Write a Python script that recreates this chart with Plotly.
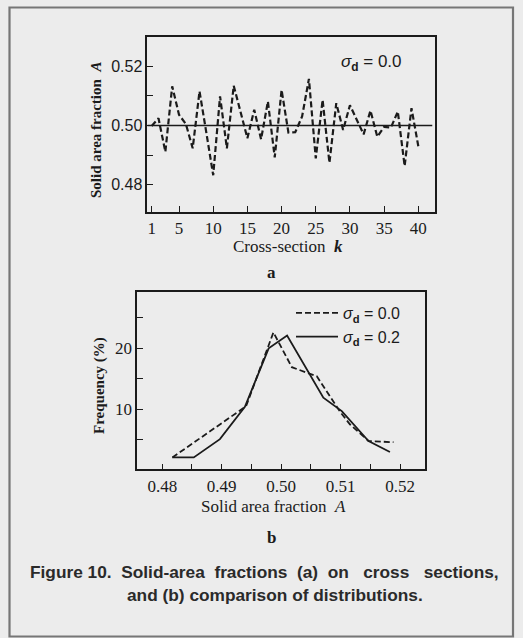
import plotly.graph_objects as go

W, H = 523, 638

# ---------------- data ----------------
# panel a: solid area fraction on each cross-section
cross_section_k = list(range(1, 41))
solid_fraction_a = [0.4998, 0.5024, 0.4911, 0.5132, 0.5036, 0.5005, 0.4923, 0.5115, 0.4975, 0.4832,
                    0.5098, 0.4923, 0.5134, 0.5050, 0.4957, 0.5053, 0.4953, 0.5081, 0.4892, 0.5120,
                    0.4976, 0.4977, 0.5030, 0.5157, 0.4889, 0.5086, 0.4874, 0.5075, 0.4985, 0.5068,
                    0.5020, 0.4970, 0.5050, 0.4962, 0.4995, 0.4993, 0.5047, 0.4863, 0.5058, 0.4930]
mean_level = 0.50
k_ticks = [1, 5, 10, 15, 20, 25, 30, 35, 40]
a_ticks = [0.48, 0.50, 0.52]

# panel b: distributions
dist_x_s00 = [0.4817, 0.4941, 0.4987, 0.5018, 0.5060, 0.5099, 0.5116, 0.5147, 0.5189]
dist_y_s00 = [2.1, 10.5, 22.6, 16.9, 15.4, 9.6, 7.5, 4.8, 4.6]
dist_x_s02 = [0.4817, 0.4853, 0.4897, 0.4939, 0.4979, 0.5010, 0.5071, 0.5102, 0.5147, 0.5183]
dist_y_s02 = [2.1, 2.1, 5.1, 10.4, 20.0, 22.1, 11.9, 9.7, 4.8, 3.0]
b_xticks = [0.48, 0.49, 0.50, 0.51, 0.52]
b_yticks = [10, 20]

INK = "#1b1b1b"
BG = "#ececec"
SERIF = "Liberation Serif"
SANS = "Liberation Sans"
NB = "\u00a0"


def px(x):
    return x / W


def py(y):
    return 1 - y / H


fig = go.Figure()

# panel a
fig.add_trace(go.Scatter(x=cross_section_k, y=solid_fraction_a, mode="lines",
                         line=dict(color=INK, width=2.2, dash="6px,3px"),
                         showlegend=False, xaxis="x", yaxis="y"))
A_XRANGE = [0.36, 42.44]
fig.add_trace(go.Scatter(x=[A_XRANGE[0], A_XRANGE[1] - 0.4], y=[mean_level, mean_level], mode="lines",
                         line=dict(color=INK, width=1.6), showlegend=False,
                         xaxis="x", yaxis="y"))

# panel b
fig.add_trace(go.Scatter(x=dist_x_s00, y=dist_y_s00, mode="lines",
                         line=dict(color=INK, width=1.8, dash="6px,3px"),
                         name="<i>σ</i><sub><b>d</b></sub> = 0.0", xaxis="x2", yaxis="y2"))
fig.add_trace(go.Scatter(x=dist_x_s02, y=dist_y_s02, mode="lines",
                         line=dict(color=INK, width=1.8),
                         name="<i>σ</i><sub><b>d</b></sub> = 0.2", xaxis="x2", yaxis="y2"))

axis_common = dict(showline=True, linecolor=INK, linewidth=1.6, mirror=True,
                   showgrid=False, zeroline=False, ticks="inside", ticklen=6,
                   tickwidth=1.4, tickcolor=INK)

fig.update_layout(
    width=W, height=H,
    margin=dict(l=0, r=0, t=0, b=0),
    paper_bgcolor=BG, plot_bgcolor=BG,
    xaxis=dict(**axis_common, domain=[px(147.3), px(435)], anchor="y",
               range=A_XRANGE, tickvals=k_ticks,
               tickfont=dict(family=SERIF, size=17, color=INK)),
    yaxis=dict(**axis_common, domain=[py(211.7), py(36.5)], anchor="x",
               range=[0.4709, 0.5300], tickvals=a_ticks, tickformat=".2f",
               tickfont=dict(family=SANS, size=16, color=INK),
               minor=dict(dtick=0.01, ticks="inside", ticklen=6, tickcolor=INK, tickwidth=1.4)),
    xaxis2=dict(**axis_common, domain=[px(137.3), px(425)], anchor="y2",
                range=[0.4758, 0.5242], tickvals=b_xticks, tickformat=".2f",
                tickfont=dict(family=SERIF, size=17, color=INK),
                minor=dict(dtick=0.005, tick0=0.48, ticks="inside", ticklen=6, tickcolor=INK, tickwidth=1.4)),
    yaxis2=dict(**axis_common, domain=[py(469.3), py(292.3)], anchor="x2",
                range=[0.16, 29.18], tickvals=b_yticks,
                tickfont=dict(family=SERIF, size=17, color=INK),
                minor=dict(dtick=5, ticks="inside", ticklen=6, tickcolor=INK, tickwidth=1.4)),
    legend=dict(x=px(291), y=py(296), xanchor="left", yanchor="top",
                bgcolor="rgba(0,0,0,0)", itemwidth=42, tracegroupgap=0,
                font=dict(family=SANS, size=16, color=INK)),
    shapes=[dict(type="rect", xref="paper", yref="paper",
                 x0=px(9.5), x1=px(513), y0=py(636.5), y1=py(7.5),
                 line=dict(color="#767676", width=2.2), fillcolor="rgba(0,0,0,0)", layer="below")],
)

line1 = (NB * 2).join(["Figure 10.", "Solid-area", "fractions", "(a)", "on"]) + NB * 3 + \
        "cross" + NB * 3 + "sections,"
ann = [
    dict(text="<b>Solid area fraction  <i>A</i></b>", x=px(96), y=py(130), textangle=-90,
         font=dict(family=SERIF, size=15, color=INK)),
    dict(text="Cross-section  <b><i>k</i></b>", x=px(288), y=py(246),
         font=dict(family=SERIF, size=17, color=INK)),
    dict(text="<b>a</b>", x=px(271.7), y=py(272), font=dict(family=SERIF, size=17, color=INK)),
    dict(text="<i>σ</i><sub><b>d</b></sub> = 0.0", x=px(371), y=py(63),
         font=dict(family=SANS, size=17, color=INK)),
    dict(text="Solid area fraction  <i>A</i>", x=px(273), y=py(506.5),
         font=dict(family=SERIF, size=17, color=INK)),
    dict(text="<b>Frequency (%)</b>", x=px(99), y=py(386), textangle=-90,
         font=dict(family=SERIF, size=15, color=INK)),
    dict(text="<b>b</b>", x=px(271.7), y=py(537), font=dict(family=SERIF, size=17, color=INK)),
    dict(text="<b>" + line1 + "</b>", x=px(264.5), y=py(572.4),
         font=dict(family=SANS, size=17.3, color="#2a2a2a")),
    dict(text="<b>and (b) comparison of distributions.</b>", x=px(275), y=py(594.8),
         font=dict(family=SANS, size=17.3, color="#2a2a2a")),
]
for a in ann:
    a.update(xref="paper", yref="paper", showarrow=False, xanchor="center", yanchor="middle")
fig.update_layout(annotations=ann)

fig.write_html("out.html")
